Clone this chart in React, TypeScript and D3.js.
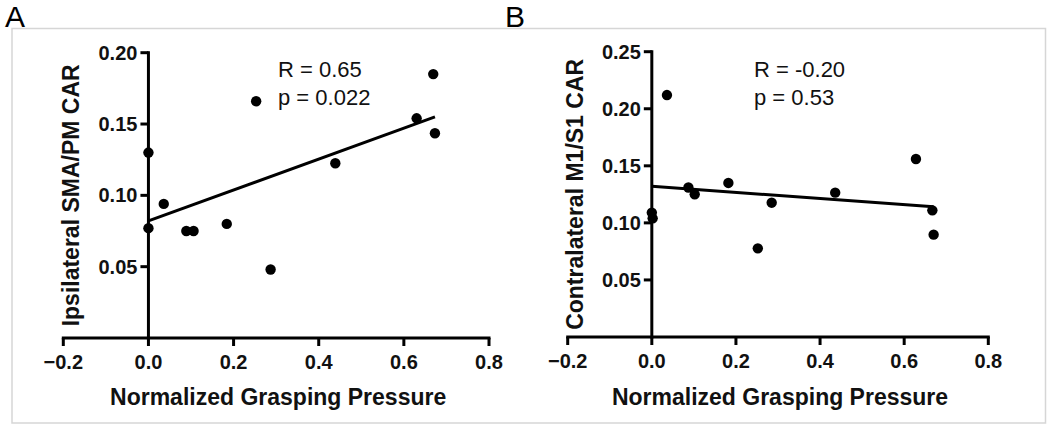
import React from "react";
import * as d3 from "d3";

const graspingPressureA = [0, 0, 0.036, 0.089, 0.106, 0.184, 0.253, 0.287, 0.439, 0.63, 0.669, 0.673];
const ipsilateralCAR = [0.13, 0.077, 0.094, 0.075, 0.075, 0.08, 0.166, 0.048, 0.1225, 0.154, 0.185, 0.1435];

const graspingPressureB = [0, 0.002, 0.036, 0.087, 0.102, 0.182, 0.252, 0.285, 0.436, 0.628, 0.667, 0.67];
const contralateralCAR = [0.109, 0.104, 0.212, 0.131, 0.125, 0.135, 0.0777, 0.1177, 0.1265, 0.156, 0.111, 0.0897];

const xTicks = [-0.2, 0, 0.2, 0.4, 0.6, 0.8];
const yTicksA = [0.05, 0.1, 0.15, 0.2];
const yTicksB = [0.05, 0.1, 0.15, 0.2, 0.25];

const FONT = "'Liberation Sans', Arial, sans-serif";

function fit(xs: number[], ys: number[]) {
  const mx = d3.mean(xs)!;
  const my = d3.mean(ys)!;
  let sxy = 0, sxx = 0;
  xs.forEach((x, i) => {
    sxy += (x - mx) * (ys[i] - my);
    sxx += (x - mx) * (x - mx);
  });
  const slope = sxy / sxx;
  return { slope, intercept: my - slope * mx };
}

type PanelProps = {
  xs: number[];
  ys: number[];
  xRange: [number, number];
  yDomain: [number, number];
  yRange: [number, number];
  yTicks: number[];
  yTitle: string;
  yTitleX: number;
  stats: [string, string];
  statsX: number;
};

function Panel(p: PanelProps) {
  const x = d3.scaleLinear().domain([-0.2, 0.8]).range(p.xRange);
  const y = d3.scaleLinear().domain(p.yDomain).range(p.yRange);
  const { slope, intercept } = fit(p.xs, p.ys);
  const x0 = 0;
  const x1 = d3.max(p.xs)!;
  const line = d3.line<number>().x((d) => x(d)).y((d) => y(intercept + slope * d));
  const ax = x(0);
  const ay = y(0);
  const sw = 3;
  const fmtY = d3.format(".2f");
  const fmtX = d3.format(".1f");
  const yMid = (y(p.yDomain[0]) + y(p.yDomain[1])) / 2;
  const xMid = (p.xRange[0] + p.xRange[1]) / 2;
  return (
    <g>
      {/* x axis */}
      <line x1={x(-0.2)} x2={x(0.8)} y1={ay} y2={ay} stroke="#000" strokeWidth={sw} strokeLinecap="square" />
      {xTicks.map((t) => (
        <g key={t}>
          <line x1={x(t)} x2={x(t)} y1={ay} y2={ay + 8} stroke="#000" strokeWidth={sw} />
          <text x={x(t)} y={ay + 31} textAnchor="middle" fontFamily={FONT} fontWeight="bold" fontSize={20} fill="#111">
            {fmtX(t)}
          </text>
        </g>
      ))}
      {/* y axis */}
      <line x1={ax} x2={ax} y1={ay} y2={y(p.yDomain[1])} stroke="#000" strokeWidth={sw} strokeLinecap="square" />
      {p.yTicks.map((t) => (
        <g key={t}>
          <line x1={ax - 8} x2={ax} y1={y(t)} y2={y(t)} stroke="#000" strokeWidth={sw} />
          <text x={ax - 11} y={y(t) + 7} textAnchor="end" fontFamily={FONT} fontWeight="bold" fontSize={20} fill="#111">
            {fmtY(t)}
          </text>
        </g>
      ))}
      {/* titles */}
      <text x={xMid + 2} y={405} textAnchor="middle" fontFamily={FONT} fontWeight="bold" fontSize={23} fill="#111">
        Normalized Grasping Pressure
      </text>
      <text
        transform={`translate(${p.yTitleX},${yMid}) rotate(-90)`}
        textAnchor="middle"
        fontFamily={FONT}
        fontWeight="bold"
        fontSize={23}
        fill="#111"
      >
        {p.yTitle}
      </text>
      {/* regression line */}
      <path d={line([x0, x1])!} stroke="#000" strokeWidth={3} fill="none" />
      {/* points */}
      {p.xs.map((v, i) => (
        <circle key={i} cx={x(v)} cy={y(p.ys[i])} r={5.2} fill="#000" />
      ))}
      {/* stats */}
      <text x={p.statsX} y={77} fontFamily={FONT} fontSize={22} fill="#111">
        {p.stats[0]}
      </text>
      <text x={p.statsX} y={105} fontFamily={FONT} fontSize={22} fill="#111">
        {p.stats[1]}
      </text>
    </g>
  );
}

export default function App() {
  return (
    <svg width={1050} height={427} style={{ position: "absolute", left: 0, top: 0, background: "#fff" }}>
      <rect x={0} y={0} width={1050} height={427} fill="#fff" />
      <rect x={12} y={28.5} width={1033.5} height={394.5} fill="none" stroke="#d6d6d6" strokeWidth={1.5} />
      <text x={5} y={27} fontFamily={FONT} fontSize={30} fill="#000">A</text>
      <text x={505} y={27} fontFamily={FONT} fontSize={30} fill="#000">B</text>
      <Panel
        xs={graspingPressureA}
        ys={ipsilateralCAR}
        xRange={[63.3, 489]}
        yDomain={[0, 0.2]}
        yRange={[338, 52.7]}
        yTicks={yTicksA}
        yTitle="Ipsilateral SMA/PM CAR"
        yTitleX={79}
        stats={["R = 0.65", "p = 0.022"]}
        statsX={278}
      />
      <Panel
        xs={graspingPressureB}
        ys={contralateralCAR}
        xRange={[567.7, 988.3]}
        yDomain={[0, 0.25]}
        yRange={[337, 51.7]}
        yTicks={yTicksB}
        yTitle="Contralateral M1/S1 CAR"
        yTitleX={583}
        stats={["R = -0.20", "p = 0.53"]}
        statsX={754}
      />
    </svg>
  );
}
